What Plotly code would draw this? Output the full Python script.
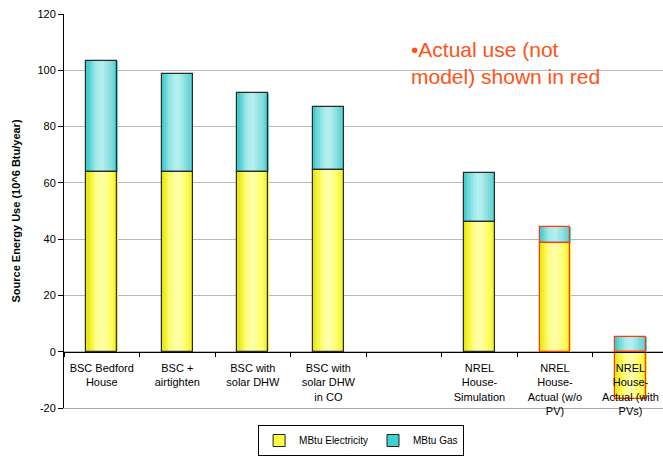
import plotly.graph_objects as go

# Categories (blank slot separates the two house groups)
categories = [
    "BSC Bedford<br>House",
    "BSC +<br>airtighten",
    "BSC with<br>solar DHW",
    "BSC with<br>solar DHW<br>in CO",
    " ",
    "NREL<br>House-<br>Simulation",
    "NREL<br>House-<br>Actual (w/o<br>PV)",
    "NREL<br>House-<br>Actual (with<br>PVs)",
]
electricity = [64.0, 64.0, 64.0, 64.5, None, 46.0, 38.5, -16.8]
gas = [39.3, 34.7, 28.1, 22.3, None, 17.4, 5.7, 5.1]
is_actual = [False, False, False, False, False, False, True, True]

y_ticks = [-20, 0, 20, 40, 60, 80, 100, 120]
y_tick_text = ["-20", "0", "20", "40", "60", "80", "100", "120"]

FONT = "Liberation Sans, Arial, sans-serif"
BAR_W = 0.41
N_SLICES = 14

MODEL_EDGE = "#2a2a2a"
ACTUAL_EDGE = "#ff3a0a"


def hex_to_rgb(h):
    h = h.lstrip("#")
    return tuple(int(h[i:i + 2], 16) for i in (0, 2, 4))


def shade(stops, t):
    for (p0, c0), (p1, c1) in zip(stops, stops[1:]):
        if p0 <= t <= p1:
            f = (t - p0) / (p1 - p0) if p1 > p0 else 0
            a, b = hex_to_rgb(c0), hex_to_rgb(c1)
            return "rgb(%d,%d,%d)" % tuple(round(a[k] + (b[k] - a[k]) * f) for k in range(3))
    return stops[-1][1]


yellow_stops = [(0, "#e6e600"), (0.3, "#ffff80"), (0.5, "#ffffb4"),
                (0.75, "#ffff70"), (1, "#f0f020")]
cyan_stops = [(0, "#38c8c8"), (0.3, "#9fe8e8"), (0.5, "#b9f0f0"),
              (0.75, "#8ee0e0"), (1, "#48cfcf")]

gas_base = [None if e is None else (e if e > 0 else 0) for e in electricity]
elec_base = [None if e is None else 0 for e in electricity]

fig = go.Figure()


def add_shaded(values, bases, stops):
    step = BAR_W / N_SLICES
    for i in range(N_SLICES):
        t = (i + 0.5) / N_SLICES
        fig.add_trace(go.Bar(
            x=categories, y=values, base=bases,
            width=step * 1.25, offset=-BAR_W / 2 + i * step,
            marker=dict(color=shade(stops, t), line=dict(width=0)),
            showlegend=False, hoverinfo="skip",
        ))


def add_outline(values, bases):
    fig.add_trace(go.Bar(
        x=categories, y=values, base=bases,
        width=BAR_W, offset=-BAR_W / 2,
        marker=dict(color="rgba(0,0,0,0)",
                    line=dict(color=[ACTUAL_EDGE if a else MODEL_EDGE for a in is_actual],
                              width=1.2)),
        showlegend=False, hoverinfo="skip",
    ))


add_shaded(electricity, elec_base, yellow_stops)
add_shaded(gas, gas_base, cyan_stops)
add_outline(electricity, elec_base)
add_outline(gas, gas_base)

# legend entries
fig.add_trace(go.Bar(x=[None], y=[None], name="MBtu Electricity",
                     marker=dict(color="#ffff40", line=dict(color="#222", width=1))))
fig.add_trace(go.Bar(x=[None], y=[None], name="MBtu Gas",
                     marker=dict(color="#40d0d0", line=dict(color="#222", width=1))))

# carrier for the category axis drawn at y = 0
fig.add_trace(go.Scatter(x=categories, y=[0] * len(categories), xaxis="x2",
                         mode="markers", marker=dict(opacity=0),
                         showlegend=False, hoverinfo="skip"))

Y_MIN, Y_MAX = -20, 120
X_RANGE = [-0.5, 7.43]
zero_pos = (0 - Y_MIN) / (Y_MAX - Y_MIN)

PLOT_H = 457 - 14 - 49

fig.update_layout(
    width=663, height=457,
    margin=dict(l=64, r=0, t=14, b=49),
    paper_bgcolor="white", plot_bgcolor="white",
    barmode="overlay", bargap=0,
    font=dict(family=FONT, size=11, color="#000"),
    xaxis=dict(type="category", categoryorder="array", categoryarray=categories,
               range=X_RANGE, showticklabels=False, ticks="", showgrid=False,
               showline=True, linecolor="#a8a8a8", linewidth=1, zeroline=False),
    xaxis2=dict(type="category", categoryorder="array", categoryarray=categories,
                range=X_RANGE, overlaying="x", anchor="free", position=zero_pos,
                side="bottom", showline=True, linecolor="#000", linewidth=1,
                ticks="outside", tickson="boundaries", ticklen=4, tickcolor="#000",
                ticklabelstandoff=6,
                showgrid=False, zeroline=False,
                tickfont=dict(family=FONT, size=11, color="#000")),
    yaxis=dict(range=[Y_MIN, Y_MAX], tickvals=y_ticks, ticktext=y_tick_text,
               showgrid=True, gridcolor="#b8b8b8",
               gridwidth=1, zeroline=False, showline=True, linecolor="#000",
               linewidth=1, ticks="outside", ticklen=5, tickcolor="#000",
               tickfont=dict(family=FONT, size=11, color="#000"),
               title=dict(text="<b>Source Energy Use (10^6 Btu/year)</b>",
                          font=dict(family=FONT, size=11, color="#000"),
                          standoff=14)),
    legend=dict(orientation="h", x=0.496, xanchor="center",
                y=-48 / PLOT_H, yanchor="bottom",
                bordercolor="#000", borderwidth=1, bgcolor="white",
                font=dict(family=FONT, size=10, color="#000"),
                itemwidth=30, tracegroupgap=0),
    annotations=[dict(
        text="\u2022Actual use (not<br>model) shown in red",
        xref="paper", yref="paper", x=0.576, y=0.945, xanchor="left", yanchor="top",
        align="left", showarrow=False,
        font=dict(family=FONT, size=21, color="#ff5214"),
    )],
)

fig.write_html("out.html")
